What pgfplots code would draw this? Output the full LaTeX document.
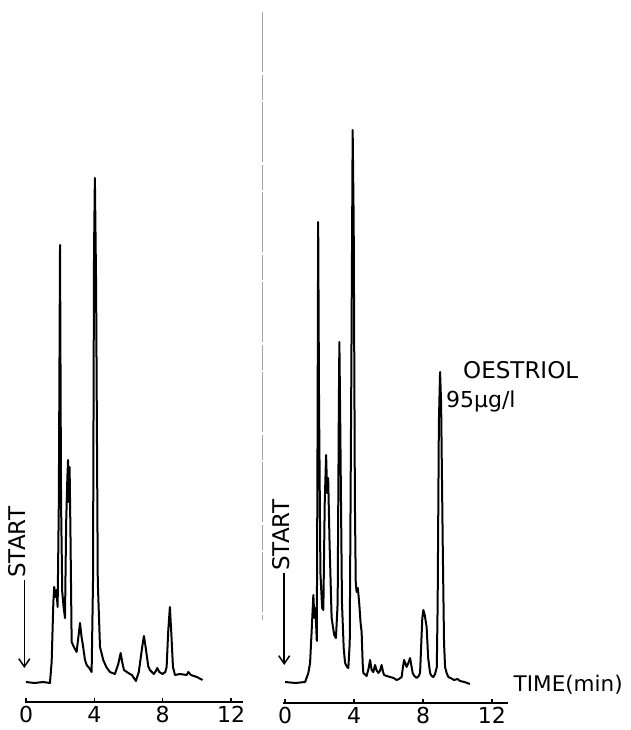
\documentclass[border=0pt]{standalone}
\usepackage{fontspec}
\setmainfont{DejaVu Sans}
\usepackage{pgfplots}
\pgfplotsset{compat=1.18}
\usetikzlibrary{arrows.meta}

% chromatogram traces: t in min, h = detector response (arbitrary units)
\pgfplotsset{
  chrom/.style={
    scale only axis, clip=false,
    height=600pt, ymin=0, ymax=600,
    axis y line=none, axis x line*=bottom,
    x axis line style={line width=2pt},
    xtick={0,4,8,12}, xtick align=inside,
    major tick length=4pt, tick style={line width=1.5pt, black},
    /pgf/number format/assume math mode=true,
    xticklabel style={font=\fontsize{22}{22}\selectfont, yshift=-1pt},
  },
  trace/.style={black, line width=2pt, line join=round, no marks},
}

\begin{document}
\begin{tikzpicture}
\useasboundingbox (0,0) rectangle (630pt,730pt);

% fold line of the scanned page
\draw[gray!70, line width=0.6pt, dash pattern=on 60pt off 3pt on 25pt off 2pt]
  (262pt,718pt) -- (262pt,110pt);

\begin{axis}[chrom, at={(25pt,28pt)}, anchor=south west,
  width=218pt, xmin=-0.06, xmax=12.7]
\addplot[trace] coordinates {
(0,20) (0.5,19) (1.0,20) (1.4,19) (1.5,40) (1.6,100) (1.65,115) (1.72,105)
(1.78,112) (1.85,95) (1.92,200) (1.99,457) (2.05,200) (2.12,110) (2.2,95)
(2.28,84) (2.35,180) (2.42,225) (2.46,242) (2.5,200) (2.55,235) (2.6,170)
(2.67,60) (2.8,55) (2.96,50) (3.1,70) (3.16,79) (3.25,65) (3.31,59)
(3.45,42) (3.55,37) (3.7,34) (3.84,30) (3.92,120) (3.98,450) (4.03,524)
(4.1,420) (4.2,120) (4.33,55) (4.52,42) (4.7,35) (4.91,30) (5.2,28)
(5.4,38) (5.54,49) (5.63,40) (5.73,32) (5.9,30) (6.08,28) (6.2,27)
(6.43,21) (6.6,30) (6.8,55) (6.9,66) (7.0,55) (7.15,36) (7.25,32)
(7.48,28) (7.6,31) (7.68,34) (7.8,30) (7.99,28) (8.15,30) (8.23,35)
(8.32,70) (8.42,95) (8.5,70) (8.6,35) (8.72,27) (9.0,28) (9.4,27)
(9.5,30) (9.65,27) (10.0,25) (10.33,22)
};
\draw[line width=1.5pt, -{Straight Barb[length=8pt,width=11pt]}]
  (axis cs:-0.1,122) -- (axis cs:-0.1,34);
\node[rotate=90, anchor=west, inner sep=0pt,
  font=\fontsize{23}{23}\selectfont] at (axis cs:-0.5,124) {START};
\end{axis}

\begin{axis}[chrom, at={(283pt,27pt)}, anchor=south west,
  width=225pt, xmin=-0.12, xmax=12.93]
\addplot[trace] coordinates {
(0,21) (0.6,20) (1.16,21) (1.35,30) (1.45,40) (1.55,75) (1.64,108) (1.7,85)
(1.76,95) (1.84,62) (1.88,250) (1.92,481) (1.97,300) (2.05,130) (2.15,95)
(2.22,93) (2.3,200) (2.38,248) (2.44,210) (2.5,225) (2.58,160) (2.7,85)
(2.85,68) (2.95,65) (3.05,100) (3.12,300) (3.15,361) (3.2,280) (3.3,100)
(3.4,55) (3.48,40) (3.6,36) (3.67,35) (3.75,60) (3.85,350) (3.92,573)
(3.98,480) (4.05,200) (4.1,120) (4.15,111) (4.22,115) (4.3,100) (4.38,80)
(4.44,71) (4.5,40) (4.54,30) (4.73,27) (4.85,35) (4.93,43) (5.02,33)
(5.12,31) (5.22,38) (5.3,33) (5.41,30) (5.5,32) (5.6,38) (5.67,32)
(5.74,28) (5.9,27) (6.09,26) (6.3,25) (6.47,23) (6.6,24) (6.76,26)
(6.83,35) (6.9,43) (6.97,40) (7.05,36) (7.15,40) (7.25,45) (7.32,38)
(7.4,30) (7.5,27) (7.63,25) (7.75,27) (7.83,30) (7.9,60) (7.96,85)
(8.02,93) (8.1,88) (8.21,76) (8.3,45) (8.41,30) (8.5,27) (8.6,26)
(8.7,29) (8.8,36) (8.85,100) (8.92,280) (8.99,331) (9.05,300) (9.15,150)
(9.22,60) (9.28,36) (9.37,30) (9.47,26) (9.6,25) (9.8,23) (10.0,24)
(10.15,22) (10.4,21) (10.72,19)
};
\draw[line width=1.5pt, -{Straight Barb[length=8pt,width=11pt]}]
  (axis cs:-0.05,130) -- (axis cs:-0.05,38);
\node[rotate=90, anchor=west, inner sep=0pt,
  font=\fontsize{23}{23}\selectfont] at (axis cs:-0.22,132) {START};
\node[anchor=west, inner sep=0pt, font=\fontsize{21.5}{22}\selectfont]
  at (axis cs:13.25,18) {TIME(min)};
\node[anchor=west, inner sep=0pt, font=\fontsize{23}{23}\selectfont]
  at (axis cs:10.32,333) {OESTRIOL};
\node[anchor=west, inner sep=0pt, font=\fontsize{22}{22}\selectfont]
  at (axis cs:9.33,302) {95µg/l};
\end{axis}
\end{tikzpicture}
\end{document}
